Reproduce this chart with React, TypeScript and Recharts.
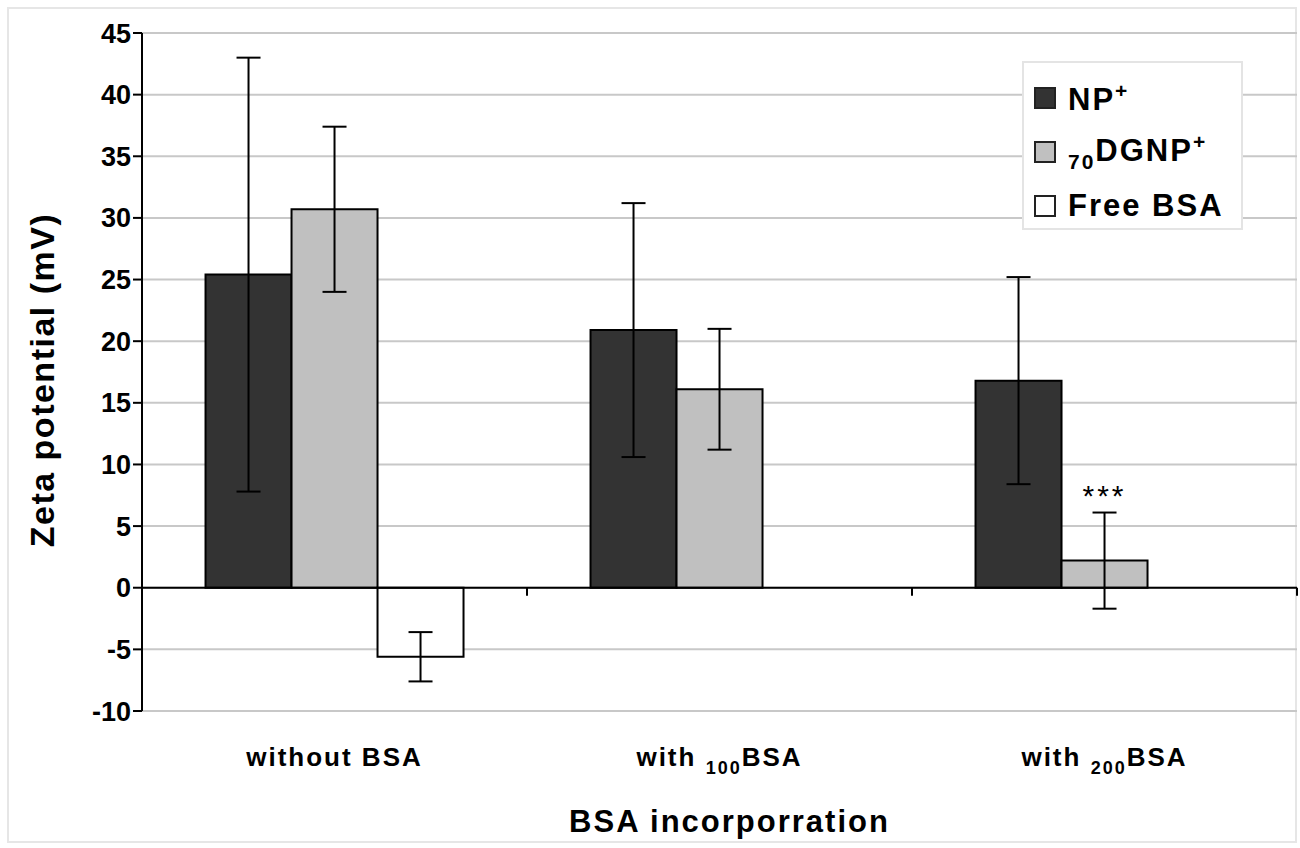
import React from 'react';
import {
  BarChart,
  Bar,
  XAxis,
  YAxis,
  CartesianGrid,
  ErrorBar,
  ReferenceLine,
  ReferenceDot,
} from 'recharts';

// values
const categories = ['without BSA', 'with 100BSA', 'with 200BSA'];
const npPlus = [25.4, 20.9, 16.8];
const npPlusErr = [17.6, 10.3, 8.4];
const dgnpPlus = [30.7, 16.1, 2.2];
const dgnpPlusErr = [6.7, 4.9, 3.9];
const freeBsa = [-5.6, null, null];
const freeBsaErr = [2.0, null, null];
const yTicks = [-10, -5, 0, 5, 10, 15, 20, 25, 30, 35, 40, 45];

const data = categories.map((c, i) => ({
  name: c,
  np: npPlus[i],
  npErr: npPlusErr[i],
  dgnp: dgnpPlus[i],
  dgnpErr: dgnpPlusErr[i],
  free: freeBsa[i],
  freeErr: freeBsaErr[i],
}));

const FONT = "'Liberation Sans', Arial, Helvetica, sans-serif";

const series = [
  { key: 'np', err: 'npErr', fill: '#333333', label: 'NP', sub: '', sup: '+' },
  { key: 'dgnp', err: 'dgnpErr', fill: '#c0c0c0', label: 'DGNP', sub: '70', sup: '+' },
  { key: 'free', err: 'freeErr', fill: '#ffffff', label: 'Free BSA', sub: '', sup: '' },
];

const CategoryTick = (props: any) => {
  const { x, y, payload } = props;
  const m = /^(with )(\d+)(BSA)$/.exec(payload.value);
  return (
    <text
      x={x}
      y={y}
      dy={47}
      textAnchor="middle"
      fontFamily={FONT}
      fontWeight="bold"
      fontSize={26}
      letterSpacing={2}
      fill="#000"
    >
      {m ? (
        <>
          <tspan>{m[1]}</tspan>
          <tspan fontSize={18} dy={8}>{m[2]}</tspan>
          <tspan dy={-8}>{m[3]}</tspan>
        </>
      ) : (
        payload.value
      )}
    </text>
  );
};

const ZeroLine = (props: any) => {
  const { x1, y1, x2 } = props;
  const n = categories.length;
  const ticks = [];
  for (let k = 1; k <= n; k++) {
    const tx = x1 + ((x2 - x1) * k) / n;
    ticks.push(<line key={k} x1={tx} x2={tx} y1={y1} y2={y1 + 8} stroke="#000" strokeWidth={2} />);
  }
  return (
    <g>
      <line x1={x1} x2={x2} y1={y1} y2={y1} stroke="#000" strokeWidth={2} />
      {ticks}
    </g>
  );
};

const LegendBox = () => (
  <div
    style={{
      position: 'absolute',
      left: 1022,
      top: 61,
      width: 221,
      height: 169,
      boxSizing: 'border-box',
      border: '2px solid #e4e4e4',
      background: '#fff',
      fontFamily: FONT,
      fontWeight: 'bold',
      fontSize: 31,
      color: '#000',
      paddingTop: 8,
      paddingLeft: 10,
    }}
  >
    {series.map((s) => (
      <div key={s.key} style={{ display: 'flex', alignItems: 'center', height: 54 }}>
        <span
          style={{
            display: 'inline-block',
            width: 18,
            height: 18,
            background: s.fill,
            border: '2px solid #222',
            marginRight: 12,
            flexShrink: 0,
          }}
        />
        <span style={{ whiteSpace: 'nowrap', letterSpacing: 2 }}>
          {s.sub && <sub style={{ fontSize: 21, verticalAlign: -8 }}>{s.sub}</sub>}
          {s.label}
          {s.sup && <sup style={{ fontSize: 21, verticalAlign: 12 }}>{s.sup}</sup>}
        </span>
      </div>
    ))}
  </div>
);

export default function App() {
  return (
    <div style={{ position: 'absolute', left: 0, top: 0, width: 1300, height: 848, background: '#fff' }}>
      <div
        style={{
          position: 'absolute',
          left: 7,
          top: 7,
          width: 1290,
          height: 836,
          border: '2px solid #e6e6e6',
          boxSizing: 'border-box',
        }}
      />
      <BarChart
        width={1300}
        height={848}
        data={data}
        margin={{ top: 33, right: 3, left: 82, bottom: 0 }}
        barCategoryGap="16.5%"
        barGap={0}
      >
        <CartesianGrid vertical={false} stroke="#c8c8c8" strokeWidth={2} />
        <XAxis
          dataKey="name"
          axisLine={false}
          tickLine={false}
          height={137}
          tick={<CategoryTick />}
          interval={0}
          label={{
            value: 'BSA incorporration',
            position: 'insideBottom',
            offset: 16,
            dx: 10,
            fontFamily: FONT,
            fontWeight: 'bold',
            fontSize: 31,
            letterSpacing: 2,
            fill: '#000',
          }}
        />
        <YAxis
          domain={[-10, 45]}
          ticks={yTicks}
          width={60}
          interval={0}
          axisLine={{ stroke: '#000', strokeWidth: 2 }}
          tickLine={{ stroke: '#000', strokeWidth: 2 }}
          tickSize={9}
          tick={{ fontFamily: FONT, fontWeight: 'bold', fontSize: 27, fill: '#000' }}
          label={{
            value: 'Zeta potential (mV)',
            angle: -90,
            position: 'insideLeft',
            offset: -40,
            dy: 8,
            fontFamily: FONT,
            fontWeight: 'bold',
            fontSize: 34,
            letterSpacing: 1.5,
            fill: '#000',
            style: { textAnchor: 'middle' },
          }}
        />
        <ReferenceLine y={0} shape={<ZeroLine />} />
        {series.map((s) => (
          <Bar
            key={s.key}
            dataKey={s.key}
            fill={s.fill}
            stroke="#000"
            strokeWidth={2}
            isAnimationActive={false}
          >
            <ErrorBar dataKey={s.err} width={12} stroke="#000" strokeWidth={2} direction="y" />
          </Bar>
        ))}
        <ReferenceDot
          x={categories[2]}
          y={dgnpPlus[2] + dgnpPlusErr[2]}
          r={0}
          stroke="none"
          fill="none"
          label={{
            value: '***',
            position: 'top',
            offset: 7,
            fontFamily: FONT,
            fontSize: 30,
            letterSpacing: 3,
            fill: '#000',
          }}
        />
      </BarChart>
      <LegendBox />
    </div>
  );
}
